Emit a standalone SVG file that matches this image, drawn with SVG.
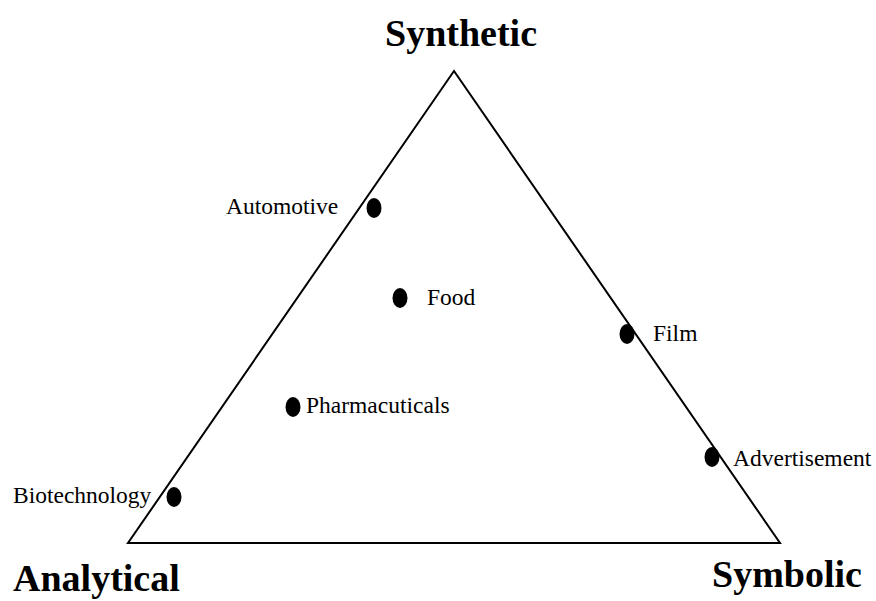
<svg xmlns="http://www.w3.org/2000/svg" width="876" height="601" viewBox="0 0 876 601">
<style>
.t{font-family:"Liberation Serif","Times New Roman",serif;font-size:23.5px;fill:#000}
.h{font-family:"Liberation Serif","Times New Roman",serif;font-size:38px;font-weight:bold;fill:#000}
.d{fill:#000}
</style>
<rect width="876" height="601" fill="#fff"/>
<g id="triangle"><polygon points="454,71 128,543 780,543" fill="none" stroke="#000" stroke-width="2"/></g>
<g id="synthetic"><text class="h" x="461" y="46" text-anchor="middle">Synthetic</text></g>
<g id="analytical"><text class="h" x="13" y="591">Analytical</text></g>
<g id="symbolic"><text class="h" x="712" y="587">Symbolic</text></g>
<g id="automotive"><ellipse class="d" cx="374" cy="208" rx="7.5" ry="10"/><text class="t" x="226" y="214">Automotive</text></g>
<g id="food"><ellipse class="d" cx="400" cy="298" rx="7.5" ry="10"/><text class="t" x="427" y="305">Food</text></g>
<g id="film"><ellipse class="d" cx="627" cy="334" rx="7.5" ry="10"/><text class="t" x="653" y="341">Film</text></g>
<g id="pharmacuticals"><ellipse class="d" cx="293" cy="407" rx="7.5" ry="10"/><text class="t" x="306" y="413">Pharmacuticals</text></g>
<g id="advertisement"><ellipse class="d" cx="712" cy="457" rx="7.5" ry="10"/><text class="t" x="733" y="466">Advertisement</text></g>
<g id="biotechnology"><ellipse class="d" cx="174" cy="497" rx="7.5" ry="10"/><text class="t" x="13" y="503">Biotechnology</text></g>
<g id="connectors"/>
</svg>
